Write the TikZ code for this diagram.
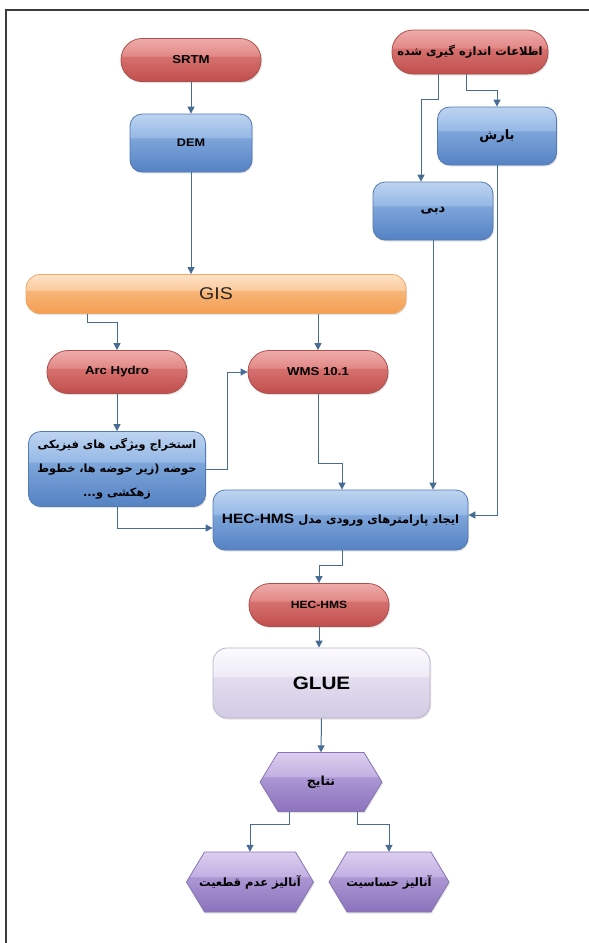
\documentclass[tikz,border=0pt]{standalone}
\usepackage{fontspec}
\setmainfont{Liberation Sans}
\newfontfamily\lat[FakeStretch=1.15]{Liberation Sans}
\newfontfamily\fa[Script=Arabic]{DejaVu Sans}
\TeXXeTstate=1
\usetikzlibrary{arrows.meta,shadows}

\definecolor{arrowc}{RGB}{72,108,148}
\definecolor{framec}{RGB}{60,60,60}
% blue
\definecolor{blT}{RGB}{190,212,240}
\definecolor{blA}{RGB}{150,185,230}
\definecolor{blB}{RGB}{125,165,218}
\definecolor{blBot}{RGB}{85,130,196}
\definecolor{blD}{RGB}{84,122,178}
% red
\definecolor{rdT}{RGB}{238,172,170}
\definecolor{rdA}{RGB}{226,137,135}
\definecolor{rdB}{RGB}{214,113,111}
\definecolor{rdBot}{RGB}{192,78,76}
\definecolor{rdD}{RGB}{172,80,78}
% orange
\definecolor{orT}{RGB}{253,226,198}
\definecolor{orA}{RGB}{251,202,156}
\definecolor{orB}{RGB}{248,182,120}
\definecolor{orBot}{RGB}{244,158,82}
\definecolor{orD}{RGB}{238,168,104}
% lavender
\definecolor{lvT}{RGB}{252,251,255}
\definecolor{lvA}{RGB}{238,235,246}
\definecolor{lvB}{RGB}{226,221,239}
\definecolor{lvBot}{RGB}{210,203,229}
\definecolor{lvD}{RGB}{186,180,206}
% purple
\definecolor{puT}{RGB}{220,206,238}
\definecolor{puA}{RGB}{194,177,226}
\definecolor{puB}{RGB}{172,151,212}
\definecolor{puBot}{RGB}{140,114,188}
\definecolor{puD}{RGB}{134,116,178}

\pgfdeclareverticalshading{shBlue}{100bp}{color(0bp)=(blBot); color(25bp)=(blBot); color(54bp)=(blB); color(55bp)=(blA); color(75bp)=(blT); color(100bp)=(blT)}
\pgfdeclareverticalshading{shRed}{100bp}{color(0bp)=(rdBot); color(25bp)=(rdBot); color(54bp)=(rdB); color(55bp)=(rdA); color(75bp)=(rdT); color(100bp)=(rdT)}
\pgfdeclareverticalshading{shOrange}{100bp}{color(0bp)=(orBot); color(25bp)=(orBot); color(54bp)=(orB); color(55bp)=(orA); color(75bp)=(orT); color(100bp)=(orT)}
\pgfdeclareverticalshading{shLav}{100bp}{color(0bp)=(lvBot); color(25bp)=(lvBot); color(54bp)=(lvB); color(55bp)=(lvA); color(75bp)=(lvT); color(100bp)=(lvT)}
\pgfdeclareverticalshading{shPurple}{100bp}{color(0bp)=(puBot); color(25bp)=(puBot); color(54bp)=(puB); color(55bp)=(puA); color(75bp)=(puT); color(100bp)=(puT)}

\tikzset{
  arr/.style={draw=arrowc, line width=1pt, -{Triangle[length=7pt,width=7pt]}},
  shad/.style={drop shadow={shadow xshift=1pt, shadow yshift=-1.5pt, opacity=0.22}},
  base/.style={inner sep=0pt, align=center, draw, line width=0.8pt, shad},
  pill/.style={base, shading=shRed, draw=rdD, rounded corners=21pt,
    minimum width=140pt, minimum height=43pt, text=black},
  bluebox/.style={base, shading=shBlue, draw=blD, rounded corners=12pt,
    minimum width=120pt, minimum height=58pt},
  hexshape/.style={shading=shPurple, draw=puD, line width=0.8pt, line join=round, shad},
  hextext/.style={inner sep=0pt, align=center, font=\fa\bfseries\fontsize{11.5}{13}\selectfont},
  latf/.style={font=\lat\bfseries\fontsize{11}{13}\selectfont},
  fabig/.style={font=\fa\bfseries\fontsize{13}{15}\selectfont},
}

\begin{document}
\begin{tikzpicture}[x=1pt,y=-1pt]
\useasboundingbox (0,0) rectangle (589,943);
\fill[white] (0,0) rectangle (589,943);
\draw[framec, line width=1.6pt] (6,943) -- (6,10) -- (589,10);

% top row
\node[pill, font=\lat\bfseries\fontsize{11.5}{13}\selectfont] (srtm) at (191,60) {SRTM};
\node[pill, font=\fa\bfseries\fontsize{11.5}{13}\selectfont, minimum width=156pt, minimum height=44pt] (info) at (470,52) {\beginR اطلاعات اندازه گیری شده\endR};
\node[bluebox, latf, minimum width=122pt] (dem) at (191,143) {DEM};
\node[bluebox, fabig, minimum width=119pt] (rain) at (497,136) {\beginR بارش\endR};
\node[bluebox, fabig] (flow) at (433,211) {\beginR دبی\endR};

% GIS
\node[base, shading=shOrange, draw=orD, rounded corners=14pt, minimum width=380pt, minimum height=39pt,
  font=\lat\fontsize{17}{19}\selectfont, text=black!85] (gis) at (216,294) {GIS};

% middle
\node[pill, font=\lat\bfseries\fontsize{11.5}{13}\selectfont] (arc) at (117,372) {Arc Hydro};
\node[pill, font=\lat\bfseries\fontsize{11.5}{13}\selectfont] (wms) at (318,372) {WMS 10.1};
\node[bluebox, minimum width=177pt, minimum height=75pt, font=\fa\bfseries\fontsize{11.3}{24}\selectfont] (ext) at (117,469)
  {\beginR استخراج ویژگی های فیزیکی\endR\\ \beginR حوضه (زیر حوضه ها، خطوط\endR\\ \beginR زهکشی و...\endR};
\node[bluebox, font=\fa\bfseries\fontsize{11.5}{13}\selectfont, minimum width=255pt, minimum height=60pt] (hecp) at (340.5,520)
  {\beginR ایجاد پارامترهای ورودی مدل \beginL{\lat\bfseries\fontsize{13.5}{15}\selectfont HEC-HMS}\endL\endR};

% lower
\node[pill, font=\lat\bfseries\fontsize{10.5}{12}\selectfont] (hec) at (319,605) {HEC-HMS};
\node[base, shading=shLav, draw=lvD, rounded corners=14pt, minimum width=217pt, minimum height=70pt,
  font=\lat\bfseries\fontsize{18}{20}\selectfont] (glue) at (321.5,683) {GLUE};

% hexagons (shape first, then the named text node of the same size)
\path[hexshape] (260,782) -- (278,752.5) -- (364,752.5) -- (382,782) -- (364,811.5) -- (278,811.5) -- cycle;
\node[hextext, font=\fa\bfseries\fontsize{12.5}{14}\selectfont, minimum width=122pt, minimum height=59pt] (res) at (321,782) {\beginR نتایج\endR};
\path[hexshape] (186.5,882) -- (204.5,852) -- (295.5,852) -- (313.5,882) -- (295.5,912) -- (204.5,912) -- cycle;
\node[hextext, minimum width=127pt, minimum height=60pt] (unc) at (250,882) {\beginR آنالیز عدم قطعیت\endR};
\path[hexshape] (329,882) -- (347,852) -- (431,852) -- (449,882) -- (431,912) -- (347,912) -- cycle;
\node[hextext, minimum width=120pt, minimum height=60pt] (sens) at (389,882) {\beginR آنالیز حساسیت\endR};

% connectors
\draw[arr] (srtm.south) -- (dem.north);
\draw[arr] ([xshift=-4pt]info.south) -- ++(0,16) -| (rain.north);
\draw[arr] ([xshift=-32pt]info.south) -- ++(0,25) -| ([xshift=-12pt]flow.north);
\draw[arr] (dem.south) -- (dem.south |- gis.north);
\draw[arr] ([xshift=-129pt]gis.south) -- ++(0,9) -| (arc.north);
\draw[arr] (wms.north |- gis.south) -- (wms.north);
\draw[arr] (arc.south) -- (ext.north);
\draw[arr] (ext.east) -- ++(22,0) |- (wms.west);
\draw[arr] (ext.south) |- ([yshift=-8pt]hecp.west);
\draw[arr] (wms.south) -- ++(0,70) -| ([xshift=1.5pt]hecp.north);
\draw[arr] (flow.south) -- (flow.south |- hecp.north);
\draw[arr] (rain.south) |- ([yshift=5pt]hecp.east);
\draw[arr] ([xshift=1.5pt]hecp.south) -- ++(0,15) -| (hec.north);
\draw[arr] (hec.south) -- (hec.south |- glue.north);
\draw[arr] (glue.south) -- (res.north);
\draw[arr] ([xshift=-32pt]res.south) -- ++(0,13) -| (unc.north);
\draw[arr] ([xshift=36pt]res.south) -- ++(0,13) -| (sens.north);
\end{tikzpicture}
\end{document}
